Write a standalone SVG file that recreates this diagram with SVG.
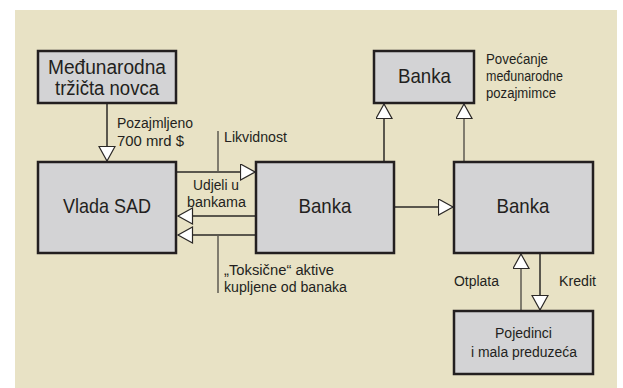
<svg xmlns="http://www.w3.org/2000/svg" width="623" height="388" viewBox="0 0 623 388">
<defs>
<style>
.box{fill:#d3d3d5;stroke:#231f20;stroke-width:2.5}
.big{font-family:"Liberation Sans",Arial,sans-serif;font-size:21px;fill:#231f20;text-anchor:middle}
.sm{font-family:"Liberation Sans",Arial,sans-serif;font-size:15.5px;fill:#231f20}
.ln{fill:none;stroke:#2b2826;stroke-width:1.5}
.lg{fill:none;stroke:#5e5a50;stroke-width:1.5}
</style>
<marker id="ah" markerUnits="userSpaceOnUse" viewBox="0 0 18 18" refX="15.5" refY="8.5" markerWidth="18" markerHeight="18" orient="auto">
<path d="M1,0.5 L15.5,8.5 L1,16.5 Z" fill="#ffffff" stroke="#2b2826" stroke-width="1.2" stroke-linejoin="miter"/>
</marker>
</defs>
<rect x="0" y="0" width="623" height="388" fill="#ffffff"/>
<rect x="15" y="10" width="602" height="378" fill="#e8e2c5"/>

<g id="connectors">
<line class="ln" x1="107" y1="104" x2="107" y2="161" marker-end="url(#ah)"/>
<line class="ln" x1="177" y1="172" x2="255" y2="172" marker-end="url(#ah)"/>
<line class="lg" x1="218" y1="131" x2="218" y2="172"/>
<line class="ln" x1="256" y1="216" x2="178" y2="216" marker-end="url(#ah)"/>
<line class="ln" x1="256" y1="235" x2="178" y2="235" marker-end="url(#ah)"/>
<line class="lg" x1="218" y1="235" x2="218" y2="293"/>
<line class="ln" x1="395" y1="207" x2="453" y2="207" marker-end="url(#ah)"/>
<line class="ln" x1="384" y1="161" x2="384" y2="104" marker-end="url(#ah)"/>
<line class="lg" x1="464" y1="161" x2="464" y2="104" marker-end="url(#ah)"/>
<line class="lg" x1="521" y1="311" x2="521" y2="254" marker-end="url(#ah)"/>
<line class="ln" x1="540" y1="254" x2="540" y2="310" marker-end="url(#ah)"/>
</g>

<g id="medjunarodna">
<rect class="box" x="38" y="51" width="138" height="52"/>
<text class="big" x="107" y="73.5" style="font-size:19.5px" textLength="118" lengthAdjust="spacingAndGlyphs">Međunarodna</text>
<text class="big" x="107" y="94.5" style="font-size:19.5px" textLength="104" lengthAdjust="spacingAndGlyphs">tržičta novca</text>
</g>

<g id="vlada">
<rect class="box" x="38" y="162" width="138" height="91"/>
<text class="big" x="107" y="213" textLength="88" lengthAdjust="spacingAndGlyphs">Vlada SAD</text>
</g>

<g id="banka-mid">
<rect class="box" x="256" y="162" width="138" height="91"/>
<text class="big" x="325" y="213" textLength="53" lengthAdjust="spacingAndGlyphs">Banka</text>
</g>

<g id="banka-top">
<rect class="box" x="374" y="51" width="100" height="52"/>
<text class="big" x="424.5" y="83" textLength="53" lengthAdjust="spacingAndGlyphs">Banka</text>
</g>

<g id="banka-right">
<rect class="box" x="454" y="162" width="139" height="91"/>
<text class="big" x="523" y="213" textLength="53" lengthAdjust="spacingAndGlyphs">Banka</text>
</g>

<g id="pojedinci">
<rect class="box" x="454" y="311" width="139" height="63"/>
<text class="sm" x="523.5" y="338" text-anchor="middle" textLength="57" lengthAdjust="spacingAndGlyphs">Pojedinci</text>
<text class="sm" x="524" y="357" text-anchor="middle" textLength="106" lengthAdjust="spacingAndGlyphs">i mala preduzeća</text>
</g>

<g id="labels">
<text class="sm" x="117" y="128" textLength="76" lengthAdjust="spacingAndGlyphs">Pozajmljeno</text>
<text class="sm" x="117" y="146" textLength="67" lengthAdjust="spacingAndGlyphs">700 mrd $</text>
<text class="sm" x="224" y="142" textLength="63" lengthAdjust="spacingAndGlyphs">Likvidnost</text>
<text class="sm" x="216" y="190" text-anchor="middle" textLength="46" lengthAdjust="spacingAndGlyphs">Udjeli u</text>
<text class="sm" x="216.5" y="207" text-anchor="middle" textLength="59" lengthAdjust="spacingAndGlyphs">bankama</text>
<text class="sm" x="224" y="275" textLength="110" lengthAdjust="spacingAndGlyphs">„Toksične“ aktive</text>
<text class="sm" x="224" y="292" textLength="123" lengthAdjust="spacingAndGlyphs">kupljene od banaka</text>
<text class="sm" x="486" y="64" textLength="62" lengthAdjust="spacingAndGlyphs">Povećanje</text>
<text class="sm" x="486" y="81" textLength="77" lengthAdjust="spacingAndGlyphs">međunarodne</text>
<text class="sm" x="486" y="98" textLength="70" lengthAdjust="spacingAndGlyphs">pozajmimce</text>
<text class="sm" x="454" y="286" textLength="45" lengthAdjust="spacingAndGlyphs">Otplata</text>
<text class="sm" x="559" y="286" textLength="37" lengthAdjust="spacingAndGlyphs">Kredit</text>
</g>
</svg>
